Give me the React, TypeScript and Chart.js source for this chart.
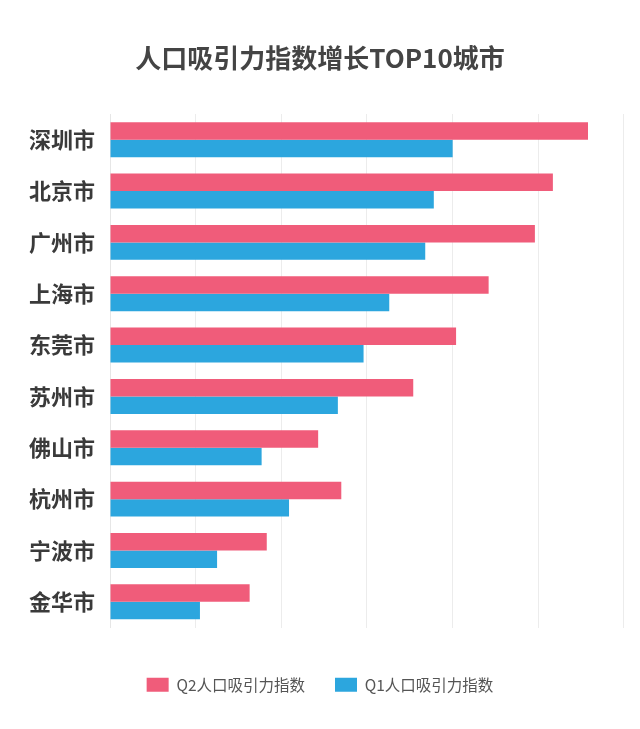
import React, { useEffect, useRef } from "react";
import { Chart, registerables } from "chart.js";

Chart.register(...registerables);

const cities = ["深圳市", "北京市", "广州市", "上海市", "东莞市", "苏州市", "佛山市", "杭州市", "宁波市", "金华市"];
const q2Values = [5.58, 5.17, 4.96, 4.42, 4.04, 3.54, 2.43, 2.7, 1.83, 1.63];
const q1Values = [4.0, 3.78, 3.68, 3.26, 2.96, 2.66, 1.77, 2.09, 1.25, 1.05];
const gridValues = [0, 1, 2, 3, 4, 5, 6];
const seriesNames = ["Q2人口吸引力指数", "Q1人口吸引力指数"];
const titleText = "人口吸引力指数增长TOP10城市";

const FONT = "'Noto Sans CJK SC', 'Noto Sans', sans-serif";

export default function App() {
  const ref = useRef<HTMLCanvasElement | null>(null);

  useEffect(() => {
    if (!ref.current) return;
    const chart = new Chart(ref.current, {
      type: "bar",
      data: {
        labels: cities,
        datasets: [
          {
            label: seriesNames[0],
            data: q2Values,
            backgroundColor: "#f05c7a",
            barPercentage: 1,
            categoryPercentage: 0.68,
          },
          {
            label: seriesNames[1],
            data: q1Values,
            backgroundColor: "#2ca6de",
            barPercentage: 1,
            categoryPercentage: 0.68,
          },
        ],
      },
      options: {
        indexAxis: "y",
        animation: false,
        responsive: false,
        maintainAspectRatio: false,
        layout: { padding: { left: 0, right: 0, top: 0, bottom: 26.5 } },
        plugins: {
          title: {
            display: true,
            text: titleText,
            color: "#444444",
            font: { family: FONT, size: 26, weight: "bold", lineHeight: 1.2 },
            padding: { top: 42.5, bottom: 40.3 },
          },
          legend: {
            display: true,
            position: "bottom",
            labels: {
              boxWidth: 22,
              boxHeight: 14,
              padding: 30,
              color: "#555555",
              font: { family: FONT, size: 15.5 },
            },
          },
          tooltip: { enabled: false },
        },
        scales: {
          x: {
            min: 0,
            max: 6.187,
            ticks: { display: false },
            afterBuildTicks: (axis: any) => {
              axis.ticks = gridValues.map((v) => ({ value: v }));
            },
            grid: { color: "#ececec", drawTicks: false, lineWidth: 1 },
            border: { display: false },
            afterFit: (axis: any) => {
              axis.height = 19.5;
            },
          },
          y: {
            ticks: {
              color: "#3a3a3a",
              padding: 15,
              font: { family: FONT, size: 22, weight: "bold" },
            },
            grid: { display: false, drawTicks: false },
            border: { display: true, color: "#e6e6e6" },
            afterFit: (axis: any) => {
              axis.width = 110;
            },
          },
        },
      },
    });
    return () => chart.destroy();
  }, []);

  return (
    <div style={{ position: "absolute", left: 0, top: 0, width: 640, height: 729, background: "#ffffff" }}>
      <canvas ref={ref} width={640} height={729} style={{ width: 640, height: 729, display: "block" }} />
    </div>
  );
}
